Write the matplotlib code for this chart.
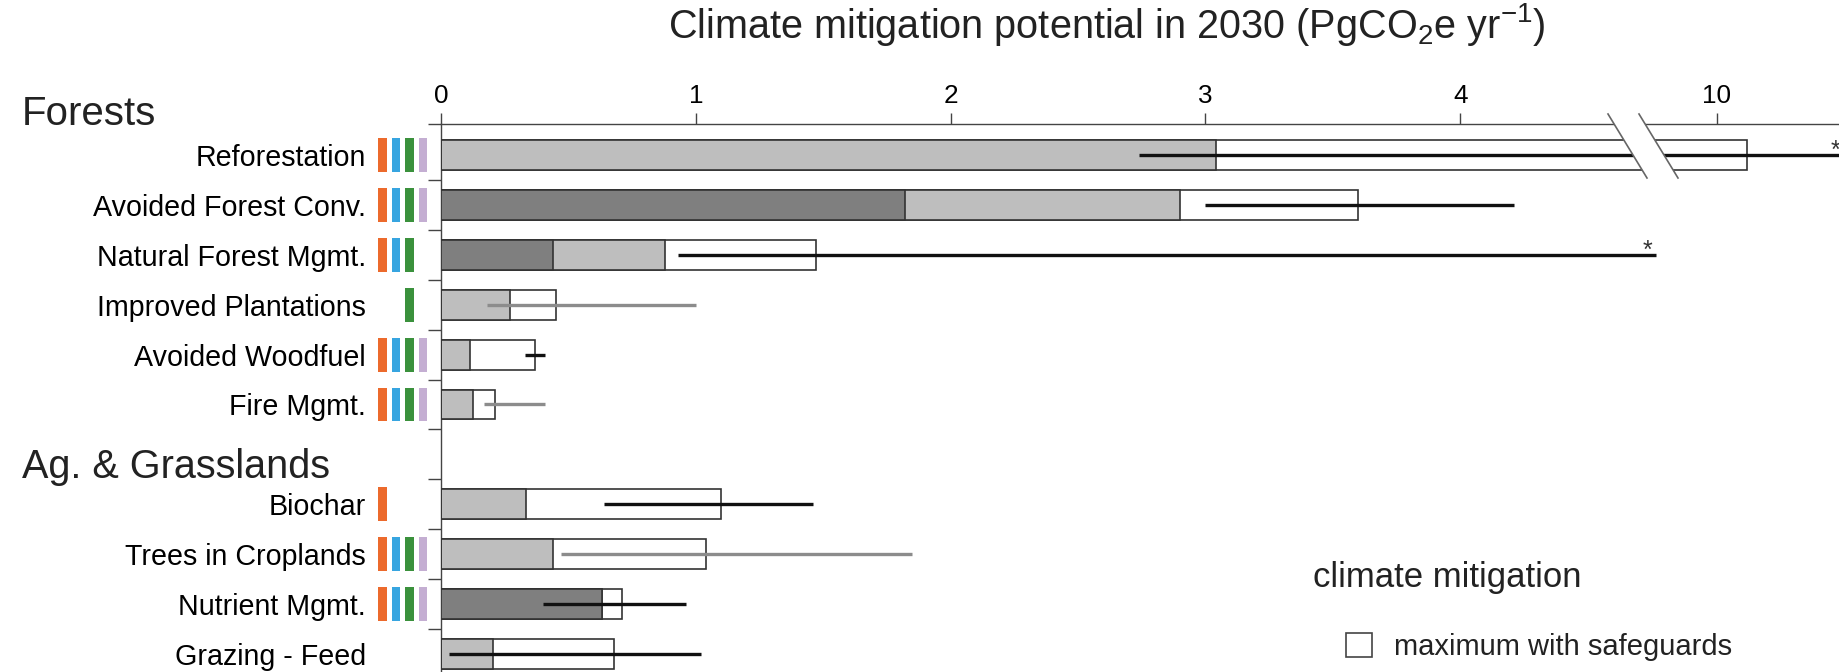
import numpy as np
import matplotlib.pyplot as plt
from matplotlib.patches import Patch, Polygon
from matplotlib.lines import Line2D

plt.rcParams['font.family'] = ['Liberation Sans', 'DejaVu Sans']
plt.rcParams['mathtext.default'] = 'regular'
plt.rcParams['text.color'] = '#222222'

categories = ['Reforestation', 'Avoided Forest Conv.', 'Natural Forest Mgmt.',
              'Improved Plantations', 'Avoided Woodfuel', 'Fire Mgmt.',
              'Biochar', 'Trees in Croplands', 'Nutrient Mgmt.', 'Grazing - Feed']
rows = [0, 1, 2, 3, 4, 5, 7, 8, 9, 10]   # row 6 is the "Ag. & Grasslands" gap

# PgCO2e / yr
low_cost = [0, 1.82, 0.44, 0, 0, 0, 0, 0, 0.63, 0]
cost_eff = [3.04, 2.90, 0.88, 0.27, 0.115, 0.127, 0.335, 0.44, 0.63, 0.205]
max_safe = [10.12, 3.60, 1.47, 0.45, 0.37, 0.21, 1.10, 1.04, 0.71, 0.68]
ci_low = [2.74, 3.00, 0.93, 0.18, 0.33, 0.17, 0.64, 0.47, 0.40, 0.03]
ci_high = [10.5, 4.21, 9.76, 1.00, 0.41, 0.41, 1.46, 1.85, 0.96, 1.02]
ci_grey = [False, False, False, True, False, True, False, True, False, False]
beyond = [True, False, True, False, False, False, False, False, False, False]

# co-benefit flags
cb_orange = [1, 1, 1, 0, 1, 1, 1, 1, 1, 0]
cb_blue = [1, 1, 1, 0, 1, 1, 0, 1, 1, 0]
cb_green = [1, 1, 1, 1, 1, 1, 0, 1, 1, 0]
cb_lilac = [1, 1, 0, 0, 1, 1, 0, 1, 1, 0]
cb_colors = ['#ec6a2c', '#37a5e0', '#3a913c', '#c4aed2']

W, H = 1839, 672
fig = plt.figure(figsize=(W / 100, H / 100), dpi=100)
ax = fig.add_axes([441 / W, 0, 1 - 441 / W, 1 - 124 / H])

# broken x axis: 4.7 .. 9.7 squeezed out
bv = [-100, 4.7, 9.7, 100]
bs = [-100, 4.7, 4.706, 95.006]
ax.set_xscale('function', functions=(lambda v: np.interp(v, bv, bs),
                                     lambda s: np.interp(s, bs, bv)))

edge = '#333333'
ax.barh(rows, max_safe, height=0.6, color='white', edgecolor=edge, lw=1.2, zorder=2)
ax.barh(rows, cost_eff, height=0.6, color='#bebebe', edgecolor=edge, lw=1.2, zorder=3)
ax.barh(rows, low_cost, height=0.6, color='#7f7f7f', edgecolor=edge, lw=1.2, zorder=4)
ax.hlines(rows, ci_low, ci_high, colors=['#8c8c8c' if g else '#111111' for g in ci_grey],
          lw=2.4, zorder=5)
for r, hi, b in zip(rows, ci_high, beyond):
    if b:
        ax.annotate('*', xy=(hi, r), xytext=(-6, -2), textcoords='offset points',
                    ha='center', va='baseline', fontsize=18, color='#333333',
                    annotation_clip=False)

ax.set_xlim(0, 10.48)
ax.set_ylim(10.36, -0.62)
ax.xaxis.tick_top()
ax.set_xticks([0, 1, 2, 3, 4, 10])
ax.tick_params(axis='x', length=8, width=1, pad=3.5, labelsize=18.8, color='#444444')
ax.set_yticks([-0.62, 0.5, 1.5, 2.5, 3.5, 4.5, 5.5, 6.5, 7.5, 8.5, 9.5])
ax.tick_params(axis='y', which='major', length=9.4, width=1, color='#444444', labelleft=False)
ax.set_yticks(rows, labels=categories, minor=True)
ax.tick_params(axis='y', which='minor', length=0, pad=54, labelsize=20.6)
ax.spines[['right', 'bottom']].set_visible(False)
for s in ['top', 'left']:
    ax.spines[s].set_color('#444444')
    ax.spines[s].set_linewidth(1)

# co-benefit colour strips left of the axis
cb = fig.add_axes([375.75 / W, 0, 54 / W, 1 - 124 / H])
for k, (flags, col) in enumerate(zip([cb_orange, cb_blue, cb_green, cb_lilac], cb_colors)):
    rr = np.array([r for r, f in zip(rows, flags) if f])
    cb.bar(np.full(len(rr), k), 0.68, bottom=rr - 0.34, width=0.6, color=col)
cb.set_xlim(-0.5, 3.5)
cb.set_ylim(10.36, -0.62)
cb.axis('off')

# axis-break marks (figure pixels)
def px(x, y):
    return (x / W, 1 - y / H)

fig.patches.append(Polygon([px(1608, 114), px(1639, 114), px(1678, 178), px(1647, 178)],
                           closed=True, facecolor='white', edgecolor='none',
                           transform=fig.transFigure, zorder=5))
for x0 in (1608, 1639):
    fig.lines.append(Line2D([x0 / W, (x0 + 39) / W], [1 - 114 / H, 1 - 178 / H],
                            color='#666666', lw=1.2, transform=fig.transFigure, zorder=6))

fig.text(1107 / W, 1 - 38 / H,
         'Climate mitigation potential in 2030 (PgCO$_2$e yr$^{-1}$)',
         fontsize=28.5, ha='center', va='baseline')
fig.text(22 / W, 1 - 125 / H, 'Forests', fontsize=29, va='baseline')
fig.text(22 / W, 1 - 478 / H, 'Ag. & Grasslands', fontsize=28.5, va='baseline')

fig.text(1313 / W, 1 - 587 / H, 'climate mitigation', fontsize=25, va='baseline')
ax.legend(handles=[Patch(facecolor='white', edgecolor='#444444', lw=1.2)],
          labels=['maximum with safeguards'],
          loc='center left', bbox_to_anchor=px(1346, 647), bbox_transform=fig.transFigure,
          frameon=False, fontsize=21, handlelength=0.89, handleheight=0.89,
          handletextpad=0.77, borderpad=0, borderaxespad=0)

fig.savefig('out.png', dpi=100)
